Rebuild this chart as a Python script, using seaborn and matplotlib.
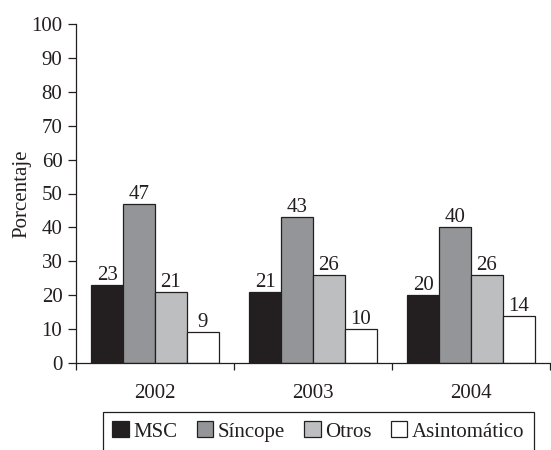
import matplotlib
matplotlib.use("Agg")
import matplotlib.pyplot as plt
import seaborn as sns
import pandas as pd

# Data
years = ["2002", "2003", "2004"]
groups = ["MSC", "Síncope", "Otros", "Asintomático"]
msc = [23, 21, 20]
sincope = [47, 43, 40]
otros = [21, 26, 26]
asintomatico = [9, 10, 14]
colors = ["#231f20", "#939598", "#bcbec0", "#ffffff"]
y_ticks = [0, 10, 20, 30, 40, 50, 60, 70, 80, 90, 100]

sns.set_theme(style="white")
plt.rcParams["font.family"] = ["Liberation Serif", "DejaVu Serif"]
plt.rcParams["font.size"] = 15

rows = []
for name, vals in zip(groups, [msc, sincope, otros, asintomatico]):
    for yr, v in zip(years, vals):
        rows.append({"year": yr, "group": name, "value": v})
df = pd.DataFrame(rows)

ink = "#231f20"
fig = plt.figure(figsize=(5.51, 4.50), dpi=100)
W, H = 551, 450
ax = fig.add_axes([76 / W, 1 - 363 / H, (550 - 76) / W, (363 - 24) / H])

sns.barplot(data=df, x="year", y="value", hue="group", order=years,
            hue_order=groups, palette=colors, width=0.806,
            edgecolor=ink, linewidth=0.9, saturation=1, ax=ax)

for cont in ax.containers:
    ax.bar_label(cont, fmt="%d", padding=0, fontsize=15, color=ink)

ax.set_xlim(-0.5, -0.5 + (550 - 76) / 162)
ax.set_ylim(0, 100)
ax.set_yticks(y_ticks)
ax.set_ylabel("Porcentaje", fontsize=15, color=ink, labelpad=0)
ax.set_xlabel("")

for s in ["top", "right"]:
    ax.spines[s].set_visible(False)
for s in ["left", "bottom"]:
    ax.spines[s].set_color(ink)
    ax.spines[s].set_linewidth(0.9)

ax.tick_params(axis="y", which="major", direction="out", length=5.8, width=0.9,
               color=ink, labelcolor=ink, pad=4, labelsize=15, left=True)
ax.tick_params(axis="x", which="major", length=0, pad=15, labelsize=15,
               labelcolor=ink, bottom=True)
ax.set_xticks([-0.5, 0.5, 1.5, 2.5], minor=True)
ax.tick_params(axis="x", which="minor", direction="out", length=5.2, width=0.9,
               color=ink, bottom=True)

handles, labels = ax.get_legend_handles_labels()
if ax.get_legend() is not None:
    ax.get_legend().remove()
leg = fig.legend(handles, labels, loc="upper left",
                 bbox_to_anchor=(103 / W, 1 - 412 / H), ncol=4,
                 fontsize=15, frameon=True, fancybox=False, framealpha=1,
                 handlelength=0.8, handleheight=0.8, handletextpad=0.23,
                 columnspacing=0.9, borderpad=0.45, borderaxespad=0)
leg.get_frame().set_edgecolor(ink)
leg.get_frame().set_linewidth(0.9)
for t in leg.get_texts():
    t.set_color(ink)

fig.savefig("out.png", dpi=100)
